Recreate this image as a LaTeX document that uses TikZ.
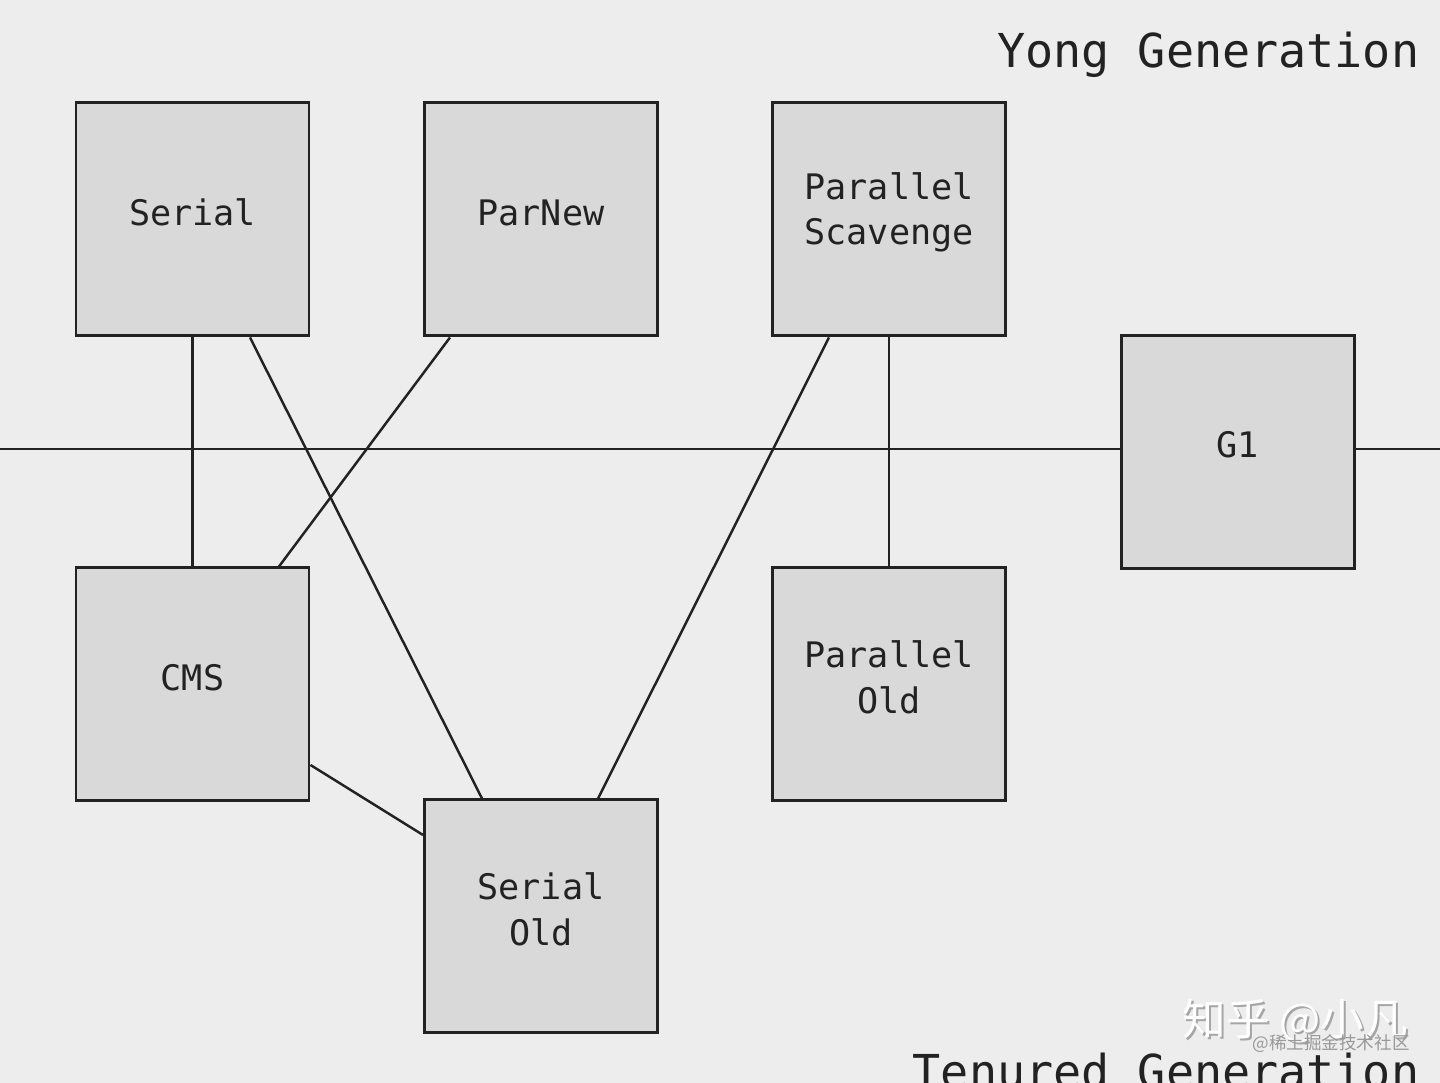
\documentclass[tikz,border=0pt]{standalone}
\usepackage{fontspec}
\setmonofont{DejaVu Sans Mono}
\newfontfamily\cjk{Noto Sans CJK SC}
\usepackage{tikz}
\usetikzlibrary{positioning,calc}
\definecolor{gcbg}{RGB}{237,237,237}
\definecolor{gcbox}{RGB}{217,217,217}
\definecolor{gcline}{RGB}{34,34,34}

\begin{document}
\begin{tikzpicture}[
  font=\ttfamily,
  box/.style={draw=gcline, fill=gcbox, rectangle, minimum width=2.33cm, minimum height=2.33cm, line width=0.85pt},
  lbl/.style={align=center, font=\ttfamily\fontsize{10}{13}\selectfont, text=gcline},
  gen/.style={inner sep=0pt, font=\ttfamily\fontsize{13.3}{16}\selectfont, text=gcline},
  conn/.style={draw=gcline, line width=0.7pt},
]

% ============ background / frame ============
\fill[gcbg] (0,0) rectangle (14.40,10.83);
\useasboundingbox (0,0) rectangle (14.40,10.83);

% ============ young generation collectors ============
\node[box] (serial) at (1.925,8.635) {};
\node[lbl] at ($(serial)+(0,0.07)$) {Serial};

\node[box] (parnew) at (5.41,8.635) {};
\node[lbl] at ($(parnew)+(0,0.07)$) {ParNew};

\node[box] (pscav) at (8.89,8.635) {};
\node[lbl] at ($(pscav)+(0,0.07)$) {Parallel\\Scavenge};

% ============ G1 (both generations) ============
\node[box] (g1) at (12.375,6.31) {};
\node[lbl] at ($(g1)+(0,0.07)$) {G1};

% ============ tenured generation collectors ============
\node[box] (cms) at (1.925,3.985) {};
\node[lbl] at ($(cms)+(0,0.07)$) {CMS};

\node[box] (pold) at (8.89,3.985) {};
\node[lbl] at ($(pold)+(0,0.07)$) {Parallel\\Old};

\node[box] (sold) at (5.41,1.665) {};
\node[lbl] at ($(sold)+(0,0.07)$) {Serial\\Old};

% ============ generation titles ============
\node[gen, anchor=base east] (yongt) at (14.20,10.15) {Yong Generation};
\node[gen, anchor=base east] (tenut) at (14.20,-0.06) {Tenured Generation};

% ============ dividing line ============
\coordinate (divL) at (0,6.34);
\coordinate (divR) at (14.40,6.34);
\draw[conn] (divL) -- (divL -| g1.west);
\draw[conn] (g1.east |- divR) -- (divR);

% ===================== CONNECTORS =====================

% Serial -- CMS
\draw[conn] (serial.south) -- (cms.north);

% Serial -- Serial Old
\draw[conn] ([xshift=0.575cm]serial.south) -- ([xshift=-0.59cm]sold.north);

% ParNew -- CMS
\draw[conn] ([xshift=-0.91cm]parnew.south) -- ([xshift=0.865cm]cms.north);

% Parallel Scavenge -- Serial Old
\draw[conn] ([xshift=-0.60cm]pscav.south) -- ([xshift=0.57cm]sold.north);

% Parallel Scavenge -- Parallel Old
\draw[conn] (pscav.south) -- (pold.north);

% CMS -- Serial Old
\draw[conn] ([yshift=-0.805cm]cms.east) -- ([yshift=0.815cm]sold.west);

% ============ watermarks ============
\node[font=\cjk\fontsize{12.4}{14}\selectfont, text=gray!70, anchor=base west] at (11.72,0.45) {知乎 @小凡};
\node[font=\cjk\fontsize{12.4}{14}\selectfont, text=white, anchor=base west] (wm1) at (11.70,0.47) {知乎 @小凡};
\node[font=\cjk\fontsize{5}{6}\selectfont, text=gray!80, anchor=base west] (wm2) at (12.40,0.33) {@稀土掘金技术社区};

\end{tikzpicture}
\end{document}
